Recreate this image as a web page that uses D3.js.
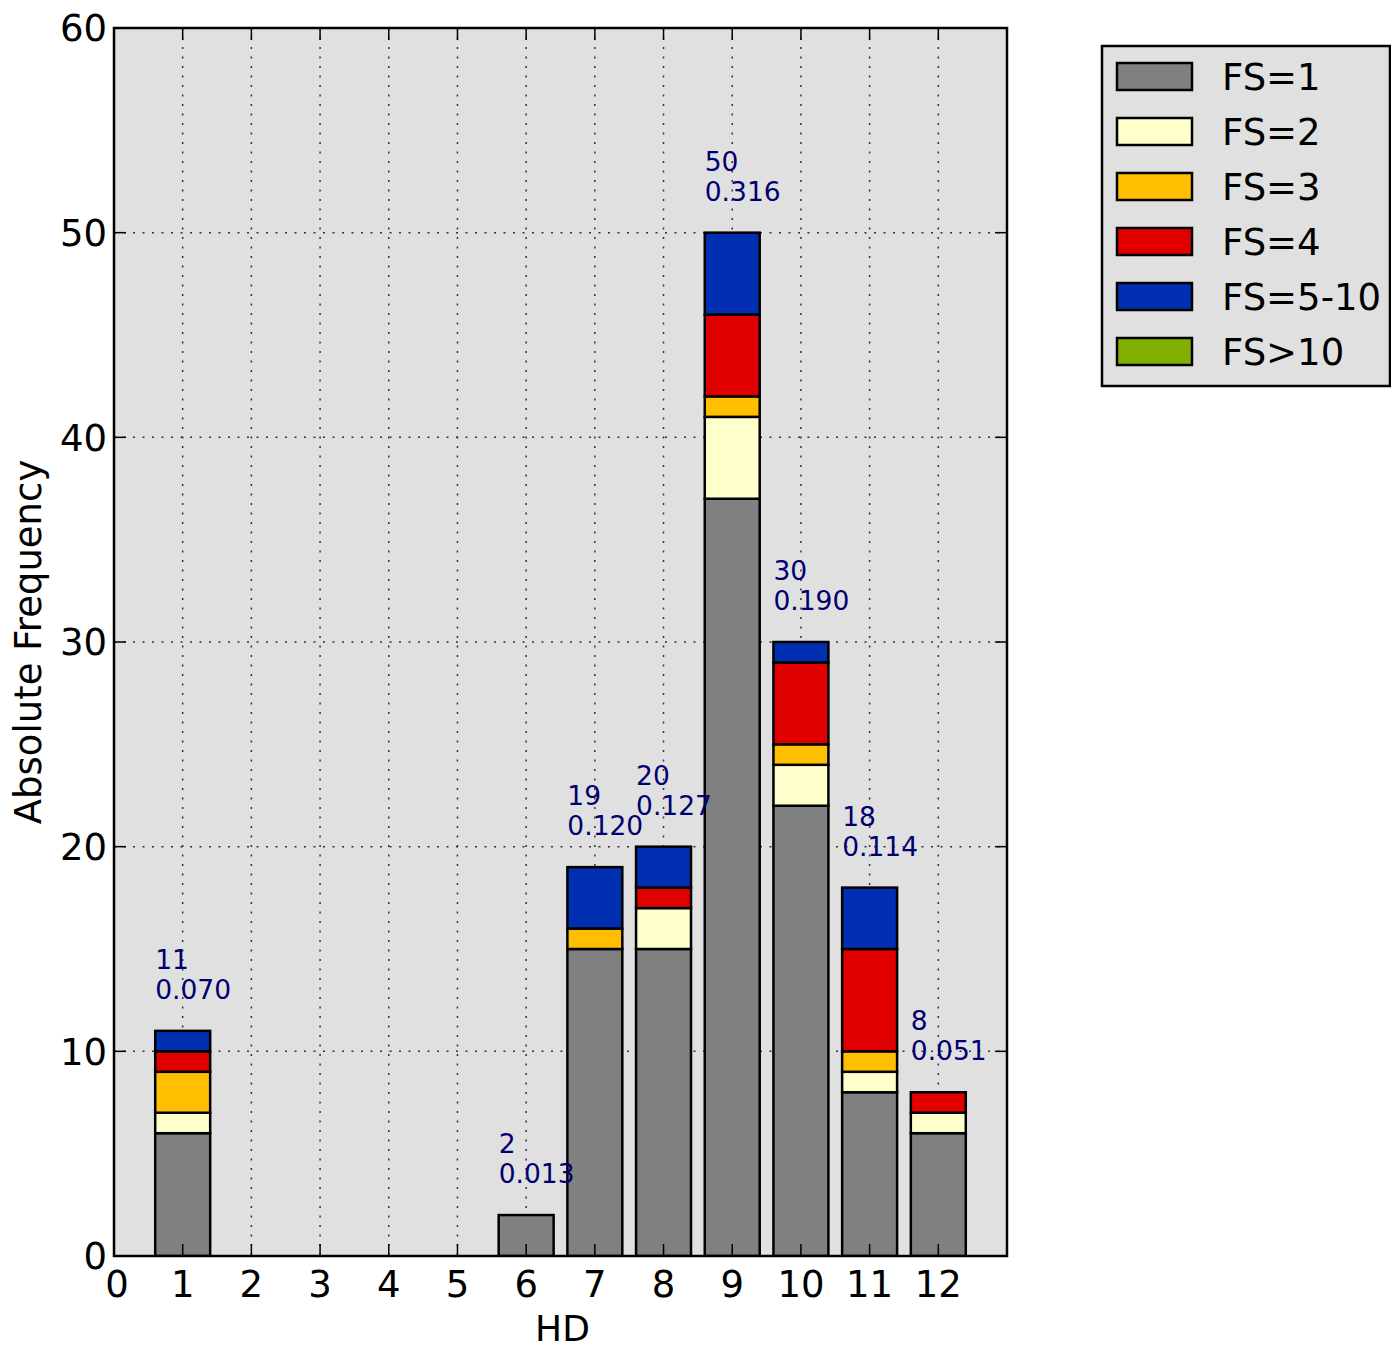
<!DOCTYPE html>
<html>
<head>
<meta charset="utf-8">
<script src="https://cdn.jsdelivr.net/npm/d3@7"></script>
<style>
  body { margin: 0; background: #fff; }
  svg text { font-family: "DejaVu Sans", sans-serif; }
</style>
</head>
<body>
<svg id="chart" width="1391" height="1351"></svg>
<script>
// HD categories and stacked counts per FS class
var hd = [0, 1, 2, 3, 4, 5, 6, 7, 8, 9, 10, 11, 12];
var seriesNames = ['FS=1', 'FS=2', 'FS=3', 'FS=4', 'FS=5-10', 'FS>10'];
var seriesColors = ['#808080', '#ffffcc', '#ffbf00', '#e00000', '#002fb2', '#80b000'];
var fs1   = [0, 6, 0, 0, 0, 0, 2, 15, 15, 37, 22, 8, 6];
var fs2   = [0, 1, 0, 0, 0, 0, 0, 0, 2, 4, 2, 1, 1];
var fs3   = [0, 2, 0, 0, 0, 0, 0, 1, 0, 1, 1, 1, 0];
var fs4   = [0, 1, 0, 0, 0, 0, 0, 0, 1, 4, 4, 5, 1];
var fs510 = [0, 1, 0, 0, 0, 0, 0, 3, 2, 4, 1, 3, 0];
var fs10p = [0, 0, 0, 0, 0, 0, 0, 0, 0, 0, 0, 0, 0];
var yTicks = [0, 10, 20, 30, 40, 50, 60];

var svg = d3.select('#chart');
// plot box (note: "top" would clash with window.top)
var pLeft = 114, pRight = 1007, pTop = 28, pBottom = 1256;

var x = d3.scaleLinear().domain([0, 13]).range([pLeft, pRight]);
var y = d3.scaleLinear().domain([0, 60]).range([pBottom, pTop]);

var rows = hd.map(function(h, i) {
  return { hd: h, 'FS=1': fs1[i], 'FS=2': fs2[i], 'FS=3': fs3[i],
           'FS=4': fs4[i], 'FS=5-10': fs510[i], 'FS>10': fs10p[i] };
});
var stacked = d3.stack().keys(seriesNames)(rows);
var totals = rows.map(function(r) {
  return d3.sum(seriesNames, function(k) { return r[k]; });
});
var grand = d3.sum(totals);

// background
svg.append('rect')
  .attr('x', pLeft).attr('y', pTop)
  .attr('width', pRight - pLeft).attr('height', pBottom - pTop)
  .attr('fill', '#e0e0e0');

// grid
var grid = svg.append('g')
  .attr('stroke', '#333')
  .attr('stroke-width', 1.5)
  .attr('stroke-dasharray', '2,7.5');
grid.selectAll('.vg').data(hd).enter().append('line')
  .attr('x1', function(d) { return x(d); }).attr('x2', function(d) { return x(d); })
  .attr('y1', pTop).attr('y2', pBottom);
grid.selectAll('.hg').data(yTicks).enter().append('line')
  .attr('x1', pLeft).attr('x2', pRight)
  .attr('y1', function(d) { return y(d); }).attr('y2', function(d) { return y(d); });

// bars
svg.append('clipPath').attr('id', 'plotclip')
  .append('rect').attr('x', pLeft).attr('y', pTop)
  .attr('width', pRight - pLeft).attr('height', pBottom - pTop);

var bars = svg.append('g').attr('clip-path', 'url(#plotclip)');
stacked.forEach(function(layer, li) {
  bars.append('g')
    .selectAll('rect')
    .data(layer.filter(function(d) { return d[1] - d[0] > 0; }))
    .enter().append('rect')
    .attr('x', function(d) { return x(d.data.hd - 0.4); })
    .attr('width', function(d) { return x(0.8) - x(0); })
    .attr('y', function(d) { return y(d[1]); })
    .attr('height', function(d) { return y(d[0]) - y(d[1]); })
    .attr('fill', seriesColors[li])
    .attr('stroke', '#000')
    .attr('stroke-width', 2.5);
});

// count / fraction labels
var labels = svg.append('g').attr('fill', '#000070').attr('font-size', 26.5);
hd.forEach(function(h, i) {
  if (totals[i] === 0) return;
  var t = labels.append('text')
    .attr('x', x(h - 0.4))
    .attr('y', y(totals[i]) - 62);
  t.append('tspan').text(totals[i]);
  t.append('tspan').attr('x', x(h - 0.4)).attr('dy', 30)
    .text((totals[i] / grand).toFixed(3));
});

// frame
svg.append('rect')
  .attr('x', pLeft).attr('y', pTop)
  .attr('width', pRight - pLeft).attr('height', pBottom - pTop)
  .attr('fill', 'none').attr('stroke', '#000').attr('stroke-width', 2.5);

// inward ticks
var ticks = svg.append('g').attr('stroke', '#000').attr('stroke-width', 1.5);
hd.forEach(function(h) {
  ticks.append('line').attr('x1', x(h)).attr('x2', x(h)).attr('y1', pBottom).attr('y2', pBottom - 12);
  ticks.append('line').attr('x1', x(h)).attr('x2', x(h)).attr('y1', pTop).attr('y2', pTop + 12);
});
yTicks.forEach(function(v) {
  ticks.append('line').attr('x1', pLeft).attr('x2', pLeft + 12).attr('y1', y(v)).attr('y2', y(v));
  ticks.append('line').attr('x1', pRight).attr('x2', pRight - 12).attr('y1', y(v)).attr('y2', y(v));
});

// tick labels
svg.append('g').selectAll('text').data(hd).enter().append('text')
  .attr('x', function(d) { return x(d) + (d === 0 ? 3 : 0); })
  .attr('y', 1297)
  .attr('text-anchor', 'middle')
  .attr('font-size', 37)
  .text(function(d) { return d; });

svg.append('g').selectAll('text').data(yTicks).enter().append('text')
  .attr('x', 107)
  .attr('y', function(d) { return y(d); })
  .attr('dy', '0.36em')
  .attr('text-anchor', 'end')
  .attr('font-size', 37)
  .text(function(d) { return d; });

// axis titles
svg.append('text')
  .attr('x', (pLeft + pRight) / 2 + 2).attr('y', 1341)
  .attr('text-anchor', 'middle').attr('font-size', 36)
  .text('HD');

svg.append('text')
  .attr('transform', 'translate(41,' + ((pTop + pBottom) / 2) + ') rotate(-90)')
  .attr('text-anchor', 'middle').attr('font-size', 37)
  .text('Absolute Frequency');

// legend
var legend = svg.append('g');
legend.append('rect')
  .attr('x', 1102).attr('y', 46)
  .attr('width', 288).attr('height', 340)
  .attr('fill', '#e0e0e0').attr('stroke', '#000').attr('stroke-width', 2.5);
seriesNames.forEach(function(name, i) {
  var ry = 63 + i * 55;
  legend.append('rect')
    .attr('x', 1117).attr('y', ry)
    .attr('width', 75).attr('height', 27)
    .attr('fill', seriesColors[i]).attr('stroke', '#000').attr('stroke-width', 2.5);
  legend.append('text')
    .attr('x', 1222).attr('y', ry + 27)
    .attr('font-size', 37)
    .text(name);
});
</script>
</body>
</html>
